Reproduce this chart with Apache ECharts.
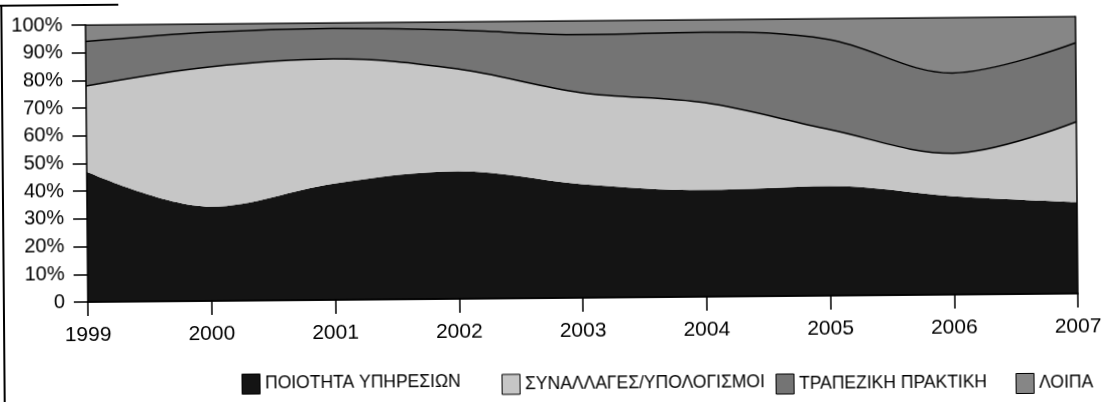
<!DOCTYPE html>
<html><head><meta charset="utf-8">
<script src="https://cdn.jsdelivr.net/npm/echarts@6/dist/echarts.min.js"></script>
<style>
html,body{margin:0;padding:0;background:#fff;overflow:hidden}
#c{width:1104px;height:402px;transform:rotate(-0.49deg);transform-origin:552px 201px}
</style>
</head><body><div id="c"></div>
<script>
const years = ['1999','2000','2001','2002','2003','2004','2005','2006','2007'];
const quality      = [47, 34, 42, 46, 41, 38.5, 39.5, 35.5, 33];
const transactions = [31, 50.5, 45, 37, 33, 31.5, 20.5, 15.5, 29];
const banking      = [16, 12.5, 11, 14, 21, 25.5, 32.5, 29, 28.5];
const other        = [6, 3, 2, 3, 5, 4.5, 7.5, 20, 9.5];
const yTickLabels  = ['0','10%','20%','30%','40%','50%','60%','70%','80%','90%','100%'];
const seriesNames  = ['ΠΟΙΟΤΗΤΑ ΥΠΗΡΕΣΙΩΝ','ΣΥΝΑΛΛΑΓΕΣ/ΥΠΟΛΟΓΙΣΜΟΙ','ΤΡΑΠΕΖΙΚΗ ΠΡΑΚΤΙΚΗ','ΛΟΙΠΑ'];

const seriesData = [quality, transactions, banking, other];
const fills = ['#141414', '#c6c6c6', '#747474', '#868686'];
const legendLefts = [240, 500, 774, 1014];
const legendTops = [371, 373.5, 375.5, 377];
const regular = "'Liberation Sans',Arial,sans-serif";

const chart = echarts.init(document.getElementById('c'), null, {renderer: 'canvas'});
const axisBase = {
  z: 10,
  axisLine: {show: true, lineStyle: {color: '#000', width: 1.5}},
};
chart.setOption({
  animation: false,
  backgroundColor: '#fff',
  grid: {left: 87, right: 27, top: 21, bottom: 104},
  xAxis: [
    Object.assign({}, axisBase, {
      type: 'category', data: years, boundaryGap: false,
      axisTick: {show: true, length: 14, lineStyle: {color: '#000', width: 1.5}},
      axisLabel: {margin: 23, color: '#000', fontSize: 21, fontFamily: regular},
      splitLine: {show: false}
    }),
    Object.assign({}, axisBase, {
      type: 'category', data: years, boundaryGap: false, position: 'top',
      axisTick: {show: false}, axisLabel: {show: false}, splitLine: {show: false}
    })
  ],
  yAxis: [
    Object.assign({}, axisBase, {
      type: 'value', min: 0, max: 100, interval: 10,
      axisTick: {show: true, length: 14, lineStyle: {color: '#000', width: 1.5}},
      axisLabel: {margin: 23, color: '#000', fontSize: 20, fontFamily: regular,
        formatter: v => yTickLabels[Math.round(v / 10)]},
      splitLine: {show: false}
    }),
    Object.assign({}, axisBase, {
      type: 'value', min: 0, max: 100, interval: 10, position: 'right',
      axisTick: {show: false}, axisLabel: {show: false}, splitLine: {show: false}
    })
  ],
  legend: seriesNames.map((n, i) => ({
    data: [n], left: legendLefts[i], top: legendTops[i], padding: 0,
    icon: 'rect', itemWidth: 18, itemHeight: 20, selectedMode: false,
    itemStyle: {borderColor: '#000', borderWidth: 1},
    textStyle: {color: '#000', fontSize: 17.5, fontFamily: regular}
  })),
  series: seriesNames.map((n, i) => ({
    name: n, type: 'line', stack: 'total', smooth: 0.35,
    data: seriesData[i], symbol: 'none', color: fills[i],
    areaStyle: {color: fills[i], opacity: 1},
    lineStyle: {color: i === 0 ? fills[0] : '#000', width: i === 0 ? 0 : 1.5},
    z: 2
  })),
  graphic: [
    {type: 'line', shape: {x1: 3, y1: 0, x2: 3, y2: 402}, style: {stroke: '#000', lineWidth: 2}},
    {type: 'line', shape: {x1: 0, y1: 1, x2: 120, y2: 1}, style: {stroke: '#000', lineWidth: 2}}
  ]
});
</script>
</body></html>
